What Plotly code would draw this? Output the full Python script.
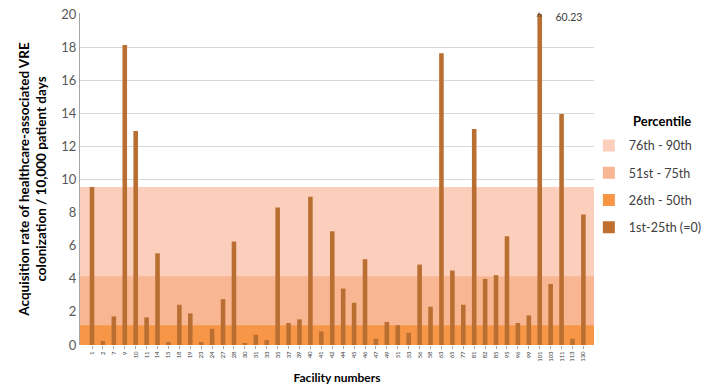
import numpy as np
import plotly.graph_objects as go

facilities = ["1", "2", "7", "9", "10", "11", "14", "15", "18", "19", "23", "24", "27", "28",
              "30", "31", "33", "35", "37", "39", "40", "41", "42", "44", "45", "46", "47",
              "49", "51", "53", "56", "58", "63", "65", "77", "81", "82", "85", "95", "96",
              "99", "101", "103", "111", "113", "130"]
rates = [9.55, 0.24, 1.73, 18.13, 12.93, 1.67, 5.54, 0.18, 2.43, 1.91, 0.18, 0.98, 2.77, 6.25,
         0.12, 0.62, 0.3, 8.31, 1.33, 1.55, 8.96, 0.82, 6.87, 3.41, 2.55, 5.18, 0.38,
         1.39, 1.2, 0.74, 4.86, 2.31, 17.63, 4.5, 2.43, 13.05, 3.99, 4.22, 6.57, 1.33,
         1.79, 60.23, 3.69, 13.95, 0.38, 7.89]

# Percentile bands (upper bounds of the rate) and their names
band_names = ["76th - 90th", "51st - 75th", "26th - 50th", "1st-25th (=0)"]
band_tops = [9.55, 4.15, 1.2, 0.0]
band_colors = ["#FBCFBB", "#F8B693", "#F79646", "#BF6F30"]
bar_color = "#BA6F32"

y_max = 20
plot_vals = np.minimum(np.array(rates), y_max)
n = len(facilities)

fig = go.Figure()

# bands: filled polygons on the base subplot (above gridlines, below bars)
for top, col in zip(band_tops, band_colors):
    if top > 0:
        fig.add_trace(go.Scatter(
            x=[0, 1, 1, 0, 0], y=[0, 0, top, top, 0], fill="toself", fillcolor=col,
            mode="none", showlegend=False, hoverinfo="skip", xaxis="x", yaxis="y"))

# legend entries
for i, (name, col) in enumerate(zip(band_names, band_colors)):
    fig.add_trace(go.Scatter(
        x=[None], y=[None], mode="markers", name=name, legendgroup=f"g{i}",
        marker=dict(symbol="square", size=10, color=col), xaxis="x", yaxis="y"))

# bars on overlaid category axis
fig.add_trace(go.Bar(
    x=facilities, y=plot_vals, marker_color=bar_color, marker_line_width=0,
    showlegend=False, hoverinfo="x+y", xaxis="x2", yaxis="y2"))

# capped bar annotation
for idx, v in enumerate(rates):
    if v > y_max:
        fig.add_annotation(x=idx, y=y_max, xref="x2", yref="y2", text="^     " + f"{v:.2f}",
                           showarrow=False, xanchor="left", yanchor="top",
                           xshift=-6, yshift=5, font=dict(size=10.5, color="#404040"))

# legend heading
fig.add_annotation(x=1.132, y=0.675, xref="paper", yref="paper", text="<b>Percentile</b>",
                   showarrow=False, xanchor="center", yanchor="middle",
                   font=dict(size=13, color="#000000"))

# page body has an 8px margin, so the figure is sized/offset to land on the 720x392 view
fig.update_layout(
    width=712, height=384,
    margin=dict(l=72, r=126, t=5, b=47, autoexpand=False),
    plot_bgcolor="white", paper_bgcolor="white",
    font=dict(family="Lato, Liberation Sans, sans-serif", color="#404040"),
    bargap=0.58,
    showlegend=True,
    legend=dict(
        x=0.99, y=0.645, xanchor="left", yanchor="top",
        font=dict(size=12.5, color="#404040"),
        tracegroupgap=8, itemsizing="constant", itemwidth=30,
        bgcolor="rgba(0,0,0,0)",
    ),
    xaxis=dict(range=[0, 1], visible=False, fixedrange=True),
    yaxis=dict(
        range=[0, y_max * 1.003], dtick=2, tick0=0,
        showgrid=True, gridcolor="#D9D9D9", gridwidth=1,
        showline=True, linecolor="#A6A6A6", linewidth=1,
        zeroline=False, ticklabeloverflow="allow",
        tickfont=dict(size=13, color="#595959"),
        title=dict(text="<b>Acquisition rate of healthcare-associated VRE<br>colonization / 10,000 patient days</b>",
                   font=dict(size=13.5, color="#000000"), standoff=11),
    ),
    xaxis2=dict(
        type="category", overlaying="x", anchor="y2", side="bottom",
        range=[-1.1, n - 1 + 0.97],
        tickmode="array", tickvals=facilities, ticktext=facilities,
        tickangle=-90, tickfont=dict(size=6, color="#404040"),
        ticks="outside", ticklen=3, tickcolor="#A6A6A6",
        showline=False, showgrid=False,
        title=dict(text="<b>Facility numbers</b>", font=dict(size=12, color="#000000"), standoff=12),
    ),
    yaxis2=dict(range=[0, y_max * 1.003], overlaying="y", visible=False, showgrid=False),
)

fig.write_html("out.html")
